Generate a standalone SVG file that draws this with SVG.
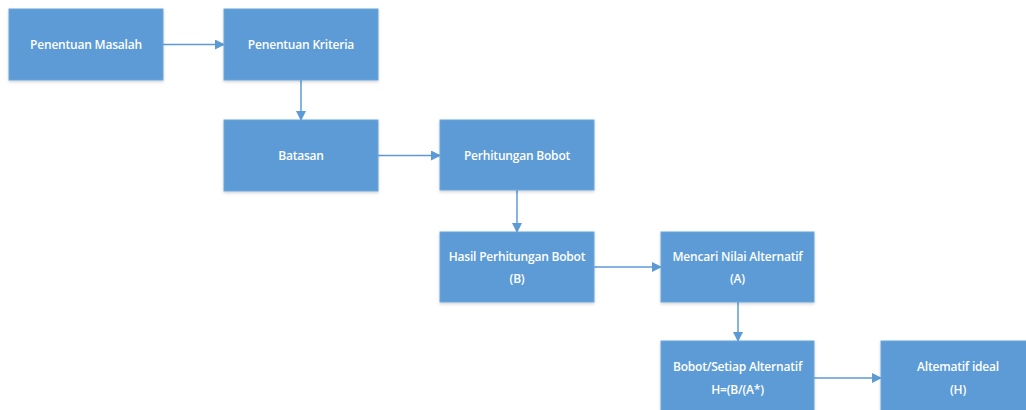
<svg xmlns="http://www.w3.org/2000/svg" width="1026" height="410" viewBox="0 0 1026 410">
<defs>
<style>
.box{fill:#5B9BD5;stroke:#6aa6dc;stroke-width:1;filter:url(#sh)}
.t{fill:#ffffff;font-family:"Open Sans","Liberation Sans",sans-serif;font-size:12px;font-weight:600;text-anchor:middle;dominant-baseline:central;letter-spacing:-0.2px}
.c{fill:none;stroke:#5B9BD5;stroke-width:1.5;marker-end:url(#ah)}
</style>
<filter id="sh" x="-10%" y="-10%" width="120%" height="130%">
<feDropShadow dx="0" dy="1.5" stdDeviation="1.5" flood-color="#000" flood-opacity="0.18"/>
</filter>
<marker id="ah" markerWidth="10" markerHeight="10" refX="9" refY="5" orient="auto" markerUnits="userSpaceOnUse">
<path d="M0,0 L10,5 L0,10 Z" fill="#5B9BD5"/>
</marker>
</defs>
<rect width="1026" height="410" fill="#ffffff"/>
<g id="connectors">
<line class="c" x1="163" y1="44.5" x2="224" y2="44.5"/>
<line class="c" x1="301" y1="80" x2="301" y2="120"/>
<line class="c" x1="378" y1="155.5" x2="440" y2="155.5"/>
<line class="c" x1="517" y1="190" x2="517" y2="232"/>
<line class="c" x1="594" y1="267" x2="661" y2="267"/>
<line class="c" x1="738" y1="302" x2="738" y2="341"/>
<line class="c" x1="814" y1="378" x2="881" y2="378"/>
</g>
<g id="n1"><rect class="box" x="9" y="9" width="154" height="71"/><text class="t" x="86" y="44.5">Penentuan Masalah</text></g>
<g id="n2"><rect class="box" x="224" y="9" width="154" height="71"/><text class="t" x="301" y="44.5">Penentuan Kriteria</text></g>
<g id="n3"><rect class="box" x="224" y="120" width="154" height="71"/><text class="t" x="301" y="155.5">Batasan</text></g>
<g id="n4"><rect class="box" x="440" y="120" width="154" height="70"/><text class="t" x="517" y="155.5">Perhitungan Bobot</text></g>
<g id="n5"><rect class="box" x="440" y="232" width="154" height="70"/><text class="t" x="517" y="256">Hasil Perhitungan Bobot</text><text class="t" x="517" y="278">(B)</text></g>
<g id="n6"><rect class="box" x="661" y="232" width="153" height="70"/><text class="t" x="737.5" y="256">Mencari Nilai Alternatif</text><text class="t" x="737.5" y="278">(A)</text></g>
<g id="n7"><rect class="box" x="661" y="341" width="153" height="75"/><text class="t" x="737.5" y="366">Bobot/Setiap Alternatif</text><text class="t" x="737.5" y="389">H=(B/(A*)</text></g>
<g id="n8"><rect class="box" x="881" y="341" width="154" height="75"/><text class="t" x="958" y="366">Altematif ideal</text><text class="t" x="958" y="389">(H)</text></g>
</svg>
